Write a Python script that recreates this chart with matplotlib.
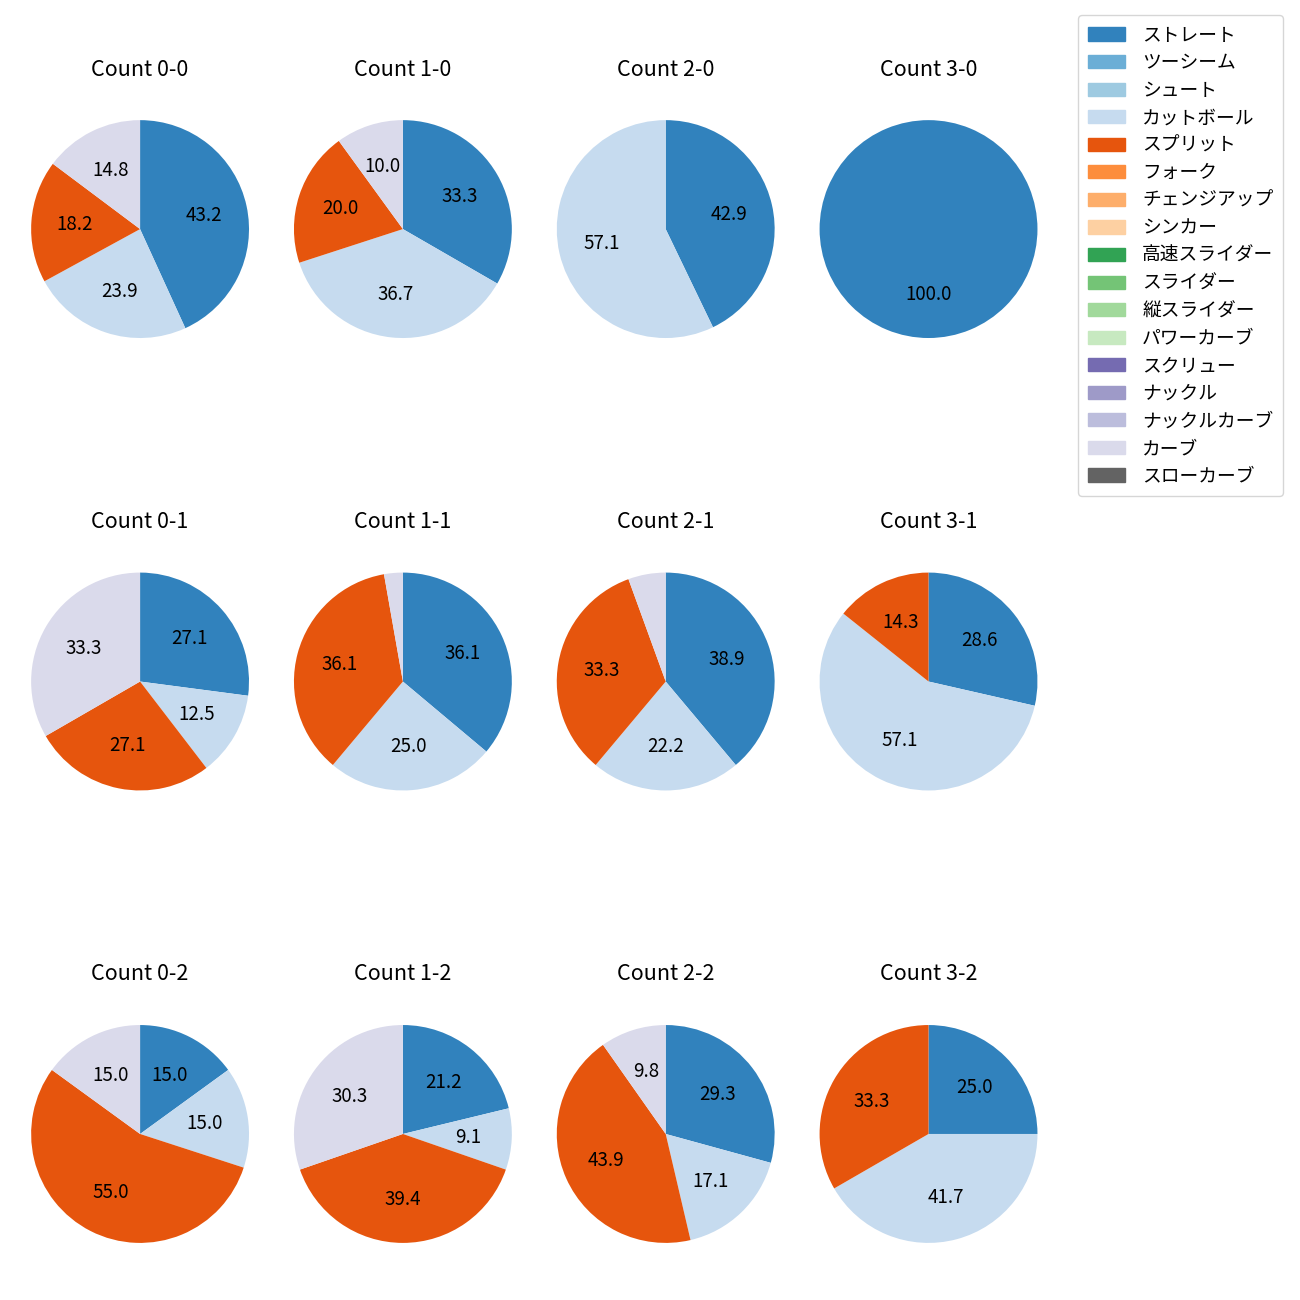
import matplotlib
matplotlib.use("Agg")
import matplotlib.pyplot as plt
from matplotlib.patches import Patch

plt.rcParams['font.family'] = ['Noto Sans CJK JP', 'DejaVu Sans']

# 球種と色 (tab20c)
pitch_types = ['ストレート', 'ツーシーム', 'シュート', 'カットボール', 'スプリット', 'フォーク',
               'チェンジアップ', 'シンカー', '高速スライダー', 'スライダー', '縦スライダー',
               'パワーカーブ', 'スクリュー', 'ナックル', 'ナックルカーブ', 'カーブ', 'スローカーブ']
cmap = plt.get_cmap('tab20c')
pitch_colors = [cmap(i) for i in range(16)] + ['#636363']

# カウント別の投球数 (ストレート, カットボール, スプリット, カーブ)
used = ['ストレート', 'カットボール', 'スプリット', 'カーブ']
counts = ['0-0', '1-0', '2-0', '3-0', '0-1', '1-1', '2-1', '3-1', '0-2', '1-2', '2-2', '3-2']
c_0_0 = [38, 21, 16, 13]
c_1_0 = [10, 11, 6, 3]
c_2_0 = [3, 4, 0, 0]
c_3_0 = [1, 0, 0, 0]
c_0_1 = [13, 6, 13, 16]
c_1_1 = [13, 9, 13, 1]
c_2_1 = [7, 4, 6, 1]
c_3_1 = [2, 4, 1, 0]
c_0_2 = [3, 3, 11, 3]
c_1_2 = [7, 3, 13, 10]
c_2_2 = [12, 7, 18, 4]
c_3_2 = [3, 5, 4, 0]
values = [c_0_0, c_1_0, c_2_0, c_3_0, c_0_1, c_1_1, c_2_1, c_3_1, c_0_2, c_1_2, c_2_2, c_3_2]

fig, axes = plt.subplots(3, 4, figsize=(13, 13))
fig.subplots_adjust(left=0.003, right=0.819, top=0.9488, bottom=0.0027, wspace=-0.035, hspace=0.392)

color_of = dict(zip(pitch_types, pitch_colors))
for ax, cnt, vals in zip(axes.flat, counts, values):
    sizes = [v for v in vals if v > 0]
    cols = [color_of[p] for p, v in zip(used, vals) if v > 0]
    ax.pie(sizes, colors=cols, startangle=90, counterclock=False,
           autopct=lambda p: f'{p:.1f}' if p >= 7 else '',
           textprops={'fontsize': 13.5})
    ax.set_title(f'Count {cnt}', fontsize=15.5, pad=12.5)

handles = [Patch(color=c, label=p) for p, c in zip(pitch_types, pitch_colors)]
fig.legend(handles=handles, loc='upper right', bbox_to_anchor=(0.994, 0.9955),
           fontsize=13.5, labelspacing=0.35, borderpad=0.5, handletextpad=0.9)

fig.savefig('out.png', dpi=100)
